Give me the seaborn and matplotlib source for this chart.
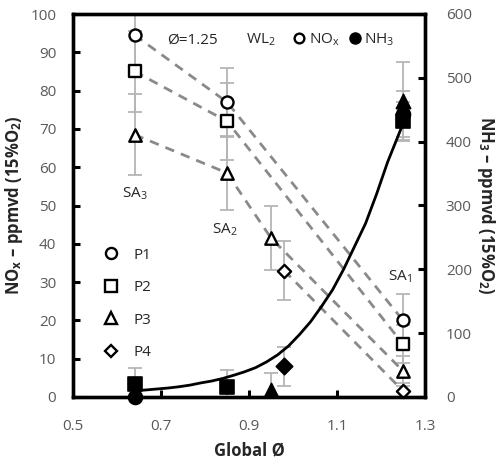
import numpy as np
import pandas as pd
import matplotlib
matplotlib.use("Agg")
import matplotlib.pyplot as plt
from matplotlib.lines import Line2D
import seaborn as sns

# ---------------- data ----------------
nox_series = ["P1", "P2", "P3", "P4"]
nox_x = {"P1": [0.64, 0.85, 1.25],
         "P2": [0.64, 0.85, 1.25],
         "P3": [0.64, 0.85, 0.95, 1.25],
         "P4": [0.98, 1.25]}
nox_y = {"P1": [94.5, 77.0, 20.0],
         "P2": [85.0, 72.0, 13.8],
         "P3": [68.5, 58.5, 41.5, 6.8],
         "P4": [33.0, 1.6]}
nox_err = {"P1": [10.0, 9.0, 7.0],
           "P2": [10.5, 10.0, 5.0],
           "P3": [10.5, 9.7, 8.3, 4.0],
           "P4": [7.7, 2.0]}

nh3_x = {"P1": [0.64, 1.25],
         "P2": [0.64, 0.85, 1.25],
         "P3": [0.95, 1.25],
         "P4": [0.98]}
nh3_y = {"P1": [0.0, 443.0],
         "P2": [21.0, 15.0, 432.0],
         "P3": [11.0, 463.0],
         "P4": [48.0]}
nh3_err = {"P1": [0.0, 36.0],
           "P2": [24.0, 27.0, 30.0],
           "P3": [26.0, 62.0],
           "P4": [30.0]}

# NH3 trend curve
fit_x = [0.64, 0.665, 0.69, 0.715, 0.74, 0.765, 0.79, 0.815, 0.84, 0.865, 0.89,
         0.915, 0.94, 0.965, 0.99, 1.015, 1.04, 1.065, 1.09, 1.115, 1.14, 1.165,
         1.19, 1.215, 1.25]
fit_y = [10, 11, 12.5, 14, 16, 18.5, 22, 25, 29, 34, 39.5,
         46, 55, 66, 80, 98, 118, 142, 168, 200, 236, 272,
         318, 368, 428]

x_ticks = [0.5, 0.7, 0.9, 1.1, 1.3]
y1_ticks = [0, 10, 20, 30, 40, 50, 60, 70, 80, 90, 100]
y2_ticks = [0, 100, 200, 300, 400, 500, 600]

markers = {"P1": "o", "P2": "s", "P3": "^", "P4": "D"}
msizes = {"P1": 75, "P2": 75, "P3": 80, "P4": 45}

# ---------------- style ----------------
sns.set_style("white")
plt.rcParams["font.family"] = ["Open Sans", "DejaVu Sans"]
plt.rcParams["mathtext.fontset"] = "custom"
plt.rcParams["mathtext.rm"] = "Open Sans"
plt.rcParams["mathtext.bf"] = "Open Sans:bold"
plt.rcParams["mathtext.it"] = "Open Sans:italic"

fig = plt.figure(figsize=(5.02, 4.67), dpi=100)
ax = fig.add_axes([73 / 502, 1 - 397 / 467, 352 / 502, 383 / 467])
ax2 = ax.twinx()

ERR = "#b5b5b5"
DASH = "#8a8a8a"

# dashed guide lines
for s in nox_series:
    sns.lineplot(x=nox_x[s], y=nox_y[s], ax=ax, color=DASH, lw=2.0,
                 linestyle=(0, (3.4, 2.6)), estimator=None, sort=False, zorder=2)

# NOx error bars + open markers
for s in nox_series:
    ax.errorbar(nox_x[s], nox_y[s], yerr=nox_err[s], fmt="none", ecolor=ERR,
                elinewidth=1.3, capsize=5, capthick=1.3, zorder=1)
for s in nox_series:
    sns.scatterplot(x=nox_x[s], y=nox_y[s], ax=ax, marker=markers[s], s=msizes[s],
                    facecolor="white", edgecolor="black", linewidth=1.7,
                    zorder=4, clip_on=False)

# NH3 error bars + filled markers + fit curve
for s in nox_series:
    ax2.errorbar(nh3_x[s], nh3_y[s], yerr=nh3_err[s], fmt="none", ecolor=ERR,
                 elinewidth=1.3, capsize=5, capthick=1.3, zorder=1)
sns.lineplot(x=fit_x, y=fit_y, ax=ax2, color="black", lw=2.0, estimator=None, zorder=3)
for s in nox_series:
    sns.scatterplot(x=nh3_x[s], y=nh3_y[s], ax=ax2, marker=markers[s], s=msizes[s] + 25,
                    color="black", edgecolor="black", linewidth=1.2, zorder=4, clip_on=False)

# axes
ax.set_xlim(0.5, 1.3)
ax.set_ylim(0, 100)
ax2.set_ylim(0, 600)
ax.set_xticks(x_ticks)
ax.set_xticklabels([f"{v:.1f}" for v in x_ticks])
ax.set_yticks(y1_ticks)
ax2.set_yticks(y2_ticks)

for a in (ax, ax2):
    for sp in a.spines.values():
        sp.set_linewidth(2.4)
        sp.set_color("black")
ax.tick_params(axis="both", direction="in", length=5, width=2.2, color="black",
               labelsize=11, labelcolor="#595959")
ax.tick_params(axis="y", left=True, right=False, pad=12)
ax.tick_params(axis="x", bottom=True, top=False, pad=16)
ax2.tick_params(axis="y", direction="in", length=5, width=2.2, color="black",
                labelsize=11, labelcolor="#595959", pad=15, right=True, left=False)

ax.set_xlabel("Global Ø", fontsize=12, fontweight="bold", labelpad=5)
ax.set_ylabel(r"NO$_{\mathbf{x}}$ – ppmvd (15%O$_{\mathbf{2}}$)", fontsize=12,
              fontweight="bold", labelpad=4)
ax2.set_ylabel(r"NH$_{\mathbf{3}}$ – ppmvd (15%O$_{\mathbf{2}}$)", fontsize=12,
               fontweight="bold", rotation=270, labelpad=18)
ax.grid(False)
ax2.grid(False)

# annotations
ax.text(0.714, 93.2, "Ø=1.25", fontsize=11, va="center", ha="left")
ax.text(0.893, 93.2, r"WL$_{\mathrm{2}}$", fontsize=11, va="center", ha="left")
ax.text(0.64, 53, r"SA$_{\mathrm{3}}$", fontsize=11, va="center", ha="center")
ax.text(0.845, 43.6, r"SA$_{\mathrm{2}}$", fontsize=11, va="center", ha="center")
ax.text(1.243, 31.4, r"SA$_{\mathrm{1}}$", fontsize=11, va="center", ha="center")

# legends
h_top = [Line2D([], [], ls="none", marker="o", ms=7, mfc="white", mec="black", mew=1.7),
         Line2D([], [], ls="none", marker="o", ms=8, mfc="black", mec="black")]
leg1 = ax.legend(h_top, [r"NO$_{\mathrm{x}}$", r"NH$_{\mathrm{3}}$"], ncol=2, frameon=False,
                 loc="center left", bbox_to_anchor=(0.6, 0.932), fontsize=11,
                 handletextpad=0.1, columnspacing=0.5, handlelength=1.0, borderpad=0)
ax.add_artist(leg1)
h_p = [Line2D([], [], ls="none", marker=markers[s], ms=8 if s != "P4" else 6,
              mfc="white", mec="black", mew=1.7) for s in nox_series]
ax.legend(h_p, nox_series, frameon=False, loc="upper left",
          bbox_to_anchor=(0.06, 0.41), fontsize=11, labelspacing=1.15,
          handletextpad=0.9, handlelength=1.2, borderpad=0)

fig.savefig("out.png", dpi=100)
